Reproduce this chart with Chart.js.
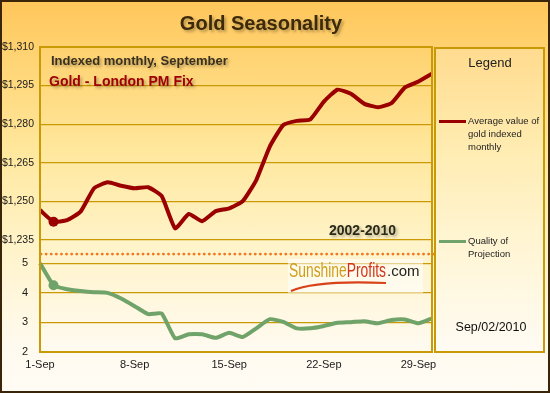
<!DOCTYPE html>
<html>
<head>
<meta charset="utf-8">
<script src="https://cdn.jsdelivr.net/npm/chart.js@4.4.0/dist/chart.umd.min.js"></script>
<style>
  html, body { margin: 0; padding: 0; }
  #wrap {
    position: relative; width: 550px; height: 393px; overflow: hidden;
    background: linear-gradient(to bottom, #ffc65a 0%, #ffd474 15%, #ffe79c 38%, #fff3c8 62%, #fffaef 88%, #fffcf5 100%);
    font-family: "Liberation Sans", Arial, sans-serif;
  }
  #wrap canvas { position: absolute; left: 0; top: 0; }
  .txt { position: absolute; white-space: nowrap; }
  .shadow { text-shadow: 2px 2px 3px rgba(0,0,0,0.3); }
  #border { position: absolute; left: 0; top: 0; width: 550px; height: 393px; box-sizing: border-box; border: 2px solid #3b2508; pointer-events: none; }
  #legendBox { position: absolute; left: 434px; top: 47px; width: 111px; height: 306px; box-sizing: border-box; border: 2px solid #c99a06; background: rgba(255,255,255,0.22); }
  .key { position: absolute; left: 439px; width: 27px; height: 3px; }
  .item { position: absolute; left: 468px; font-size: 9.5px; line-height: 13px; color: #222; }
</style>
</head>
<body>
<div id="wrap">
  <canvas id="grafico" width="550" height="393"></canvas>

  <div class="txt shadow" style="left:261px; top:23px; transform:translate(-50%,-50%); font-size:20px; font-weight:bold; color:#3d2a0a;">Gold Seasonality</div>
  <div class="txt shadow" style="left:51px; top:53px; font-size:13px; line-height:16px; font-weight:bold; color:#3a3020;">Indexed monthly, September</div>
  <div class="txt shadow" style="left:49px; top:73px; font-size:14px; line-height:16px; font-weight:bold; color:#a00000;">Gold - London PM Fix</div>
  <div class="txt shadow" style="left:329px; top:222px; font-size:14px; line-height:16px; font-weight:bold; color:#2a2a1a;">2002-2010</div>

  <!-- logo -->
  <div style="position:absolute; left:288px; top:259px; width:135px; height:34px; background:rgba(255,255,255,0.55);"></div>
  <div class="txt" style="left:289px; top:259px; font-size:19.5px; line-height:22px; transform:scaleX(0.71); transform-origin:left top;"><span style="color:#cf9d1a;">Sunshine</span><span style="color:#d2331c;">Profits</span></div>
  <div class="txt" style="left:387px; top:262px; font-size:15px; line-height:18px; color:#222;">.com</div>
  <svg style="position:absolute; left:0; top:0;" width="550" height="393"><path d="M291 291 Q316 280 386 283" stroke="#d8431b" stroke-width="2.2" fill="none"/></svg>

  <!-- legend panel -->
  <div id="legendBox"></div>
  <div class="txt" style="left:490px; top:62px; transform:translate(-50%,-50%); font-size:13px; color:#222;">Legend</div>
  <div class="key" style="top:120px; background:#9a0000;"></div>
  <div class="item" style="top:114px;">Average value of<br>gold indexed<br>monthly</div>
  <div class="key" style="top:240px; background:#6fa36a;"></div>
  <div class="item" style="top:234px;">Quality of<br>Projection</div>
  <div class="txt" style="left:491px; top:327px; transform:translate(-50%,-50%); font-size:12.5px; color:#111;">Sep/02/2010</div>

  <div id="border"></div>
</div>

<script>
// datos
const DAYS = [];
for (let d = 1; d <= 30; d++) DAYS.push(d + '-Sep');

const GOLD_INDEX = [
  1246.6, 1242.1, 1242.7, 1246.0, 1255.1, 1257.4, 1256.1, 1255.1, 1255.5, 1252.1,
  1239.5, 1245.1, 1242.3, 1246.2, 1247.3, 1250.1, 1258.3, 1271.3, 1279.7, 1281.3,
  1281.9, 1288.8, 1293.4, 1291.8, 1287.9, 1286.6, 1288.2, 1294.3, 1296.6, 1299.6
];

const QUALITY = [
  5.00, 4.26, 4.12, 4.06, 4.02, 4.00, 3.81, 3.55, 3.28, 3.30,
  2.46, 2.60, 2.60, 2.48, 2.65, 2.51, 2.80, 3.11, 3.02, 2.80,
  2.80, 2.88, 2.99, 3.01, 3.04, 2.97, 3.08, 3.10, 2.97, 3.14
];

const GOLD_TICKS = [1235, 1250, 1265, 1280, 1295, 1310];
const QUALITY_TICKS = [2, 3, 4, 5];
const X_TICKS = ['1-Sep', '8-Sep', '15-Sep', '22-Sep', '29-Sep'];
const MARKER_INDEX = 1;

const GOLD_LINE = '#c99a06';
const tickFont = { family: '"Liberation Sans", Arial, sans-serif', size: 10.5 };

// marco del grafico y linea punteada
const marco = {
  id: 'marco',
  afterDraw(chart) {
    const c = chart.ctx;
    const a = chart.chartArea;
    const ySep = chart.scales.yGold.getPixelForValue(chart.scales.yGold.min);
    c.save();
    c.strokeStyle = '#f07a22';
    c.lineWidth = 2.8;
    c.lineCap = 'round';
    c.setLineDash([0.1, 5]);
    c.beginPath();
    c.moveTo(a.left + 1, ySep);
    c.lineTo(a.right + 2, ySep);
    c.stroke();
    c.setLineDash([]);
    c.strokeStyle = GOLD_LINE;
    c.lineWidth = 2;
    c.strokeRect(a.left, a.top, a.right - a.left, a.bottom - a.top);
    c.restore();
  }
};

new Chart(document.getElementById('grafico'), {
  type: 'line',
  data: {
    labels: DAYS,
    datasets: [
      {
        label: 'Average value of gold indexed monthly',
        data: GOLD_INDEX,
        yAxisID: 'yGold',
        borderColor: '#9a0000',
        backgroundColor: '#9a0000',
        borderWidth: 4,
        tension: 0.15,
        borderJoinStyle: 'round',
        pointRadius: ctx => ctx.dataIndex === MARKER_INDEX ? 5 : 0,
        pointBorderWidth: 0
      },
      {
        label: 'Quality of Projection',
        data: QUALITY,
        yAxisID: 'yQuality',
        borderColor: '#6fa36a',
        backgroundColor: '#6fa36a',
        borderWidth: 4,
        tension: 0.15,
        borderJoinStyle: 'round',
        pointRadius: ctx => ctx.dataIndex === MARKER_INDEX ? 5 : 0,
        pointBorderWidth: 0
      }
    ]
  },
  options: {
    responsive: false,
    animation: false,
    layout: { padding: { left: 0, top: 47, right: 118, bottom: 21 } },
    plugins: { legend: { display: false }, tooltip: { enabled: false } },
    scales: {
      x: {
        type: 'category',
        offset: false,
        grid: { display: false, drawTicks: false },
        border: { display: false },
        ticks: {
          autoSkip: false, maxRotation: 0, padding: 6, color: '#1a1a1a',
          font: { family: tickFont.family, size: 11 },
          callback(v) {
            const l = this.getLabelForValue(v);
            return X_TICKS.includes(l) ? l : null;
          }
        },
        afterFit: s => { s.height = 20; }
      },
      // el panel apilado que se define primero queda abajo
      yQuality: {
        position: 'left',
        stack: 'panel',
        stackWeight: 1,
        min: 2,
        max: 5.31,
        afterBuildTicks: a => { a.ticks = QUALITY_TICKS.map(v => ({ value: v })); },
        grid: { color: GOLD_LINE, lineWidth: 1.2, drawTicks: false },
        border: { display: false },
        ticks: { padding: 12, color: '#1a1a1a', font: { family: tickFont.family, size: 11 } },
        afterFit: s => { s.width = 40; }
      },
      yGold: {
        position: 'left',
        stack: 'panel',
        stackWeight: 2.116,
        min: 1229.5,
        max: 1310,
        afterBuildTicks: a => { a.ticks = GOLD_TICKS.map(v => ({ value: v })); },
        grid: { color: GOLD_LINE, lineWidth: 1.2, drawTicks: false },
        border: { display: false },
        ticks: { padding: 6, color: '#1a1a1a', font: tickFont, callback: v => '$' + v.toLocaleString('en-US') },
        afterFit: s => { s.width = 40; }
      }
    }
  },
  plugins: [marco]
});
</script>
</body>
</html>
